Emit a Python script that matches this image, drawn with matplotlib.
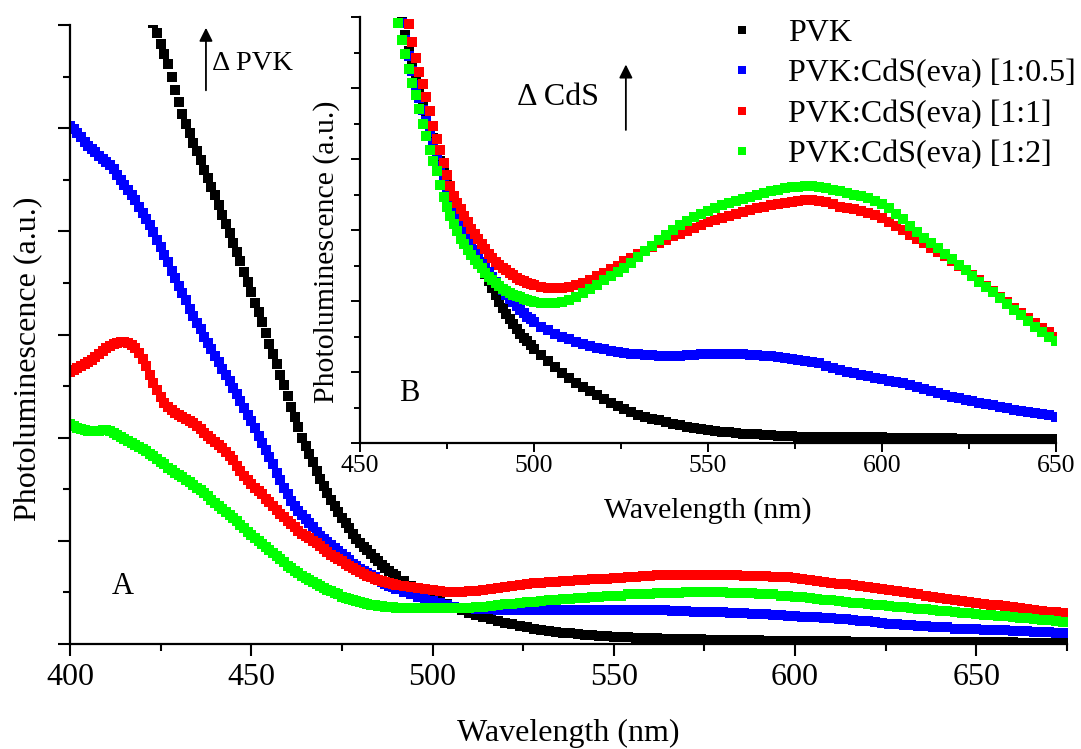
import numpy as np
import matplotlib
matplotlib.use("Agg")
import matplotlib.pyplot as plt
from matplotlib.ticker import MultipleLocator, NullFormatter

plt.rcParams['font.family'] = ['Liberation Serif', 'DejaVu Serif']

# ---------------- data: main panel (A) ----------------
wl_main = np.concatenate([np.arange(400, 491, 1), np.arange(492, 675, 2)])
wl_main_pvk = wl_main[wl_main >= 422]

pvk_main = [6.15, 6.02, 5.92, 5.82, 5.72, 5.62, 5.50, 5.37,
            5.25, 5.14, 5.04, 4.95, 4.86, 4.78, 4.69, 4.59, 4.52, 4.43,
            4.35, 4.26, 4.16, 4.07, 3.98, 3.89, 3.80, 3.71, 3.61, 3.51,
            3.41, 3.31, 3.22, 3.12, 3.01, 2.91, 2.81, 2.71, 2.61, 2.51,
            2.40, 2.30, 2.20, 2.10, 2.00, 1.92, 1.84, 1.76, 1.68, 1.60,
            1.53, 1.46, 1.40, 1.34, 1.28, 1.22, 1.17, 1.12, 1.07, 1.02,
            0.98, 0.94, 0.91, 0.87, 0.83, 0.80, 0.77, 0.74, 0.71, 0.68,
            0.66,
            0.61, 0.56, 0.52, 0.49, 0.46, 0.42, 0.39, 0.36, 0.33, 0.30,
            0.28, 0.26, 0.24, 0.22, 0.20, 0.19, 0.17, 0.16, 0.15, 0.14,
            0.13, 0.12, 0.11, 0.11, 0.10, 0.09, 0.09, 0.08, 0.08, 0.07,
            0.07, 0.07, 0.06, 0.06, 0.06, 0.06, 0.05, 0.05, 0.05, 0.05,
            0.05, 0.05, 0.04, 0.04, 0.04, 0.04, 0.04, 0.04, 0.04, 0.04,
            0.03, 0.03, 0.03, 0.03, 0.03, 0.03, 0.03, 0.03, 0.03, 0.03,
            0.03, 0.03, 0.02, 0.02, 0.02, 0.02, 0.02, 0.02, 0.02, 0.02,
            0.02, 0.02, 0.02, 0.02, 0.02, 0.02, 0.02, 0.02, 0.02, 0.02,
            0.02, 0.02, 0.02, 0.02, 0.02, 0.01, 0.01, 0.01, 0.01, 0.01,
            0.01, 0.01]

cds05_main = [5.02, 4.99, 4.95, 4.91, 4.87, 4.83, 4.80, 4.77, 4.73, 4.70,
              4.67, 4.64, 4.60, 4.55, 4.50, 4.45, 4.40, 4.35, 4.30, 4.24,
              4.18, 4.12, 4.06, 3.99, 3.92, 3.85, 3.77, 3.70, 3.62, 3.55,
              3.47, 3.40, 3.33, 3.25, 3.18, 3.11, 3.05, 2.98, 2.92, 2.86,
              2.79, 2.73, 2.67, 2.61, 2.55, 2.48, 2.42, 2.36, 2.29, 2.22,
              2.16, 2.09, 2.02, 1.95, 1.88, 1.81, 1.74, 1.66, 1.59, 1.51,
              1.45, 1.39, 1.34, 1.29, 1.25, 1.21, 1.17, 1.13, 1.09, 1.05,
              1.02, 0.99, 0.96, 0.93, 0.90, 0.87, 0.84, 0.81, 0.78, 0.76,
              0.73, 0.71, 0.69, 0.67, 0.65, 0.62, 0.60, 0.58, 0.56, 0.55,
              0.53,
              0.50, 0.48, 0.46, 0.44, 0.42, 0.40, 0.38, 0.36, 0.35, 0.35,
              0.34, 0.34, 0.34, 0.33, 0.33, 0.33, 0.33, 0.33, 0.33, 0.33,
              0.33, 0.33, 0.33, 0.33, 0.33, 0.33, 0.33, 0.33, 0.33, 0.33,
              0.33, 0.33, 0.33, 0.33, 0.33, 0.33, 0.33, 0.32, 0.32, 0.32,
              0.31, 0.31, 0.31, 0.31, 0.31, 0.30, 0.30, 0.30, 0.29, 0.29,
              0.29, 0.28, 0.28, 0.27, 0.27, 0.26, 0.26, 0.26, 0.25, 0.25,
              0.24, 0.24, 0.23, 0.22, 0.22, 0.21, 0.20, 0.19, 0.19, 0.18,
              0.18, 0.17, 0.17, 0.16, 0.16, 0.16, 0.15, 0.15, 0.15, 0.15,
              0.14, 0.14, 0.14, 0.14, 0.13, 0.13, 0.13, 0.12, 0.12, 0.12,
              0.11, 0.11]

cds1_main = [2.64, 2.66, 2.68, 2.69, 2.71, 2.73, 2.75, 2.78, 2.81, 2.84,
             2.87, 2.89, 2.91, 2.92, 2.93, 2.93, 2.92, 2.90, 2.87, 2.82,
             2.76, 2.69, 2.61, 2.53, 2.46, 2.39, 2.34, 2.30, 2.27, 2.24,
             2.22, 2.20, 2.18, 2.16, 2.14, 2.11, 2.08, 2.05, 2.02, 1.99,
             1.96, 1.93, 1.90, 1.86, 1.82, 1.78, 1.73, 1.68, 1.63, 1.59,
             1.55, 1.51, 1.48, 1.45, 1.41, 1.38, 1.34, 1.30, 1.26, 1.23,
             1.19, 1.16, 1.13, 1.10, 1.07, 1.05, 1.03, 1.00, 0.98, 0.95,
             0.92, 0.89, 0.86, 0.84, 0.82, 0.80, 0.78, 0.76, 0.74, 0.72,
             0.70, 0.68, 0.66, 0.65, 0.63, 0.62, 0.61, 0.60, 0.59, 0.58,
             0.57,
             0.56, 0.55, 0.54, 0.53, 0.52, 0.51, 0.50, 0.50, 0.50, 0.51,
             0.51, 0.52, 0.53, 0.54, 0.55, 0.56, 0.57, 0.58, 0.59, 0.59,
             0.60, 0.60, 0.61, 0.61, 0.62, 0.62, 0.63, 0.63, 0.63, 0.64,
             0.64, 0.65, 0.65, 0.66, 0.66, 0.67, 0.67, 0.67, 0.67, 0.67,
             0.67, 0.67, 0.67, 0.67, 0.67, 0.67, 0.67, 0.66, 0.66, 0.66,
             0.66, 0.65, 0.65, 0.65, 0.64, 0.63, 0.62, 0.61, 0.60, 0.59,
             0.58, 0.58, 0.57, 0.56, 0.55, 0.54, 0.53, 0.52, 0.51, 0.50,
             0.49, 0.48, 0.47, 0.46, 0.45, 0.44, 0.43, 0.42, 0.41, 0.40,
             0.39, 0.38, 0.38, 0.37, 0.36, 0.35, 0.34, 0.33, 0.32, 0.31,
             0.31, 0.30]

cds2_main = [2.13, 2.11, 2.09, 2.08, 2.07, 2.06, 2.06, 2.06, 2.06, 2.07,
             2.07, 2.06, 2.05, 2.03, 2.01, 1.99, 1.97, 1.95, 1.93, 1.91,
             1.89, 1.87, 1.84, 1.82, 1.79, 1.76, 1.74, 1.71, 1.69, 1.66,
             1.64, 1.62, 1.59, 1.57, 1.54, 1.51, 1.49, 1.46, 1.43, 1.40,
             1.37, 1.34, 1.31, 1.28, 1.25, 1.22, 1.19, 1.15, 1.12, 1.09,
             1.06, 1.03, 1.00, 0.97, 0.94, 0.91, 0.88, 0.85, 0.82, 0.79,
             0.76, 0.74, 0.71, 0.69, 0.66, 0.64, 0.62, 0.60, 0.58, 0.56,
             0.54, 0.52, 0.51, 0.49, 0.48, 0.46, 0.45, 0.44, 0.43, 0.42,
             0.41, 0.40, 0.39, 0.38, 0.38, 0.37, 0.37, 0.36, 0.36, 0.36,
             0.35,
             0.35, 0.35, 0.35, 0.35, 0.35, 0.35, 0.35, 0.35, 0.35, 0.35,
             0.36, 0.36, 0.37, 0.38, 0.39, 0.39, 0.40, 0.41, 0.41, 0.42,
             0.43, 0.43, 0.44, 0.44, 0.45, 0.45, 0.46, 0.46, 0.47, 0.47,
             0.47, 0.48, 0.48, 0.48, 0.48, 0.49, 0.49, 0.49, 0.49, 0.50,
             0.50, 0.50, 0.50, 0.50, 0.50, 0.49, 0.49, 0.49, 0.49, 0.48,
             0.48, 0.48, 0.47, 0.47, 0.46, 0.46, 0.45, 0.44, 0.43, 0.43,
             0.42, 0.41, 0.40, 0.40, 0.39, 0.38, 0.38, 0.37, 0.36, 0.36,
             0.35, 0.34, 0.34, 0.33, 0.32, 0.32, 0.31, 0.30, 0.30, 0.29,
             0.28, 0.28, 0.27, 0.27, 0.26, 0.25, 0.25, 0.24, 0.23, 0.23,
             0.22, 0.21]

# ---------------- data: inset (B) ----------------
wl_inset = np.concatenate([np.arange(460, 501, 1), np.arange(502, 651, 2)])

pvk_inset = [6.42, 6.20, 5.98, 5.75, 5.52, 5.31, 5.11, 4.93, 4.76, 4.60,
             4.45, 4.29, 4.13, 3.97, 3.82, 3.67, 3.53, 3.39, 3.26, 3.14,
             3.02, 2.91, 2.80, 2.69, 2.58, 2.48, 2.38, 2.28, 2.18, 2.08,
             1.99, 1.90, 1.82, 1.74, 1.67, 1.60, 1.54, 1.48, 1.43, 1.38, 1.33,
             1.24, 1.15, 1.07, 0.99, 0.92, 0.85, 0.79, 0.73, 0.67, 0.62,
             0.57, 0.52, 0.48, 0.44, 0.40, 0.37, 0.34, 0.32, 0.29, 0.27,
             0.25, 0.23, 0.21, 0.20, 0.18, 0.17, 0.16, 0.15, 0.14, 0.13,
             0.12, 0.12, 0.11, 0.11, 0.10, 0.10, 0.10, 0.09, 0.09, 0.09,
             0.08, 0.08, 0.08, 0.08, 0.08, 0.08, 0.08, 0.08, 0.08, 0.08,
             0.07, 0.07, 0.07, 0.07, 0.07, 0.07, 0.07, 0.07, 0.07, 0.07,
             0.06, 0.06, 0.06, 0.06, 0.06, 0.06, 0.06, 0.06, 0.06, 0.06,
             0.06, 0.06, 0.06, 0.06, 0.06]

cds05_inset = [6.35, 6.13, 5.91, 5.68, 5.45, 5.24, 5.04, 4.86, 4.69, 4.53,
               4.38, 4.22, 4.06, 3.90, 3.75, 3.60, 3.46, 3.33, 3.21, 3.10,
               3.00, 2.90, 2.81, 2.72, 2.63, 2.55, 2.48, 2.41, 2.34, 2.27,
               2.21, 2.15, 2.09, 2.03, 1.98, 1.93, 1.88, 1.83, 1.78, 1.74, 1.70,
               1.64, 1.59, 1.54, 1.50, 1.46, 1.42, 1.39, 1.36, 1.34, 1.32,
               1.30, 1.28, 1.27, 1.26, 1.25, 1.24, 1.24, 1.23, 1.23, 1.23,
               1.23, 1.24, 1.24, 1.25, 1.25, 1.25, 1.25, 1.25, 1.25, 1.25,
               1.24, 1.24, 1.23, 1.22, 1.21, 1.20, 1.19, 1.17, 1.16, 1.14,
               1.12, 1.09, 1.06, 1.03, 1.00, 0.98, 0.96, 0.94, 0.92, 0.90,
               0.88, 0.86, 0.84, 0.81, 0.79, 0.76, 0.73, 0.70, 0.67, 0.65,
               0.63, 0.61, 0.59, 0.57, 0.55, 0.53, 0.51, 0.49, 0.47, 0.45,
               0.44, 0.42, 0.41, 0.39, 0.37]

cds1_inset = [6.70, 6.55, 6.35, 6.10, 5.90, 5.65, 5.42, 5.22, 5.05, 4.88,
              4.68, 4.47, 4.28, 4.12, 3.95, 3.78, 3.62, 3.48, 3.38, 3.29,
              3.20, 3.11, 3.02, 2.94, 2.87, 2.80, 2.73, 2.66, 2.60, 2.55,
              2.51, 2.47, 2.43, 2.40, 2.36, 2.33, 2.30, 2.28, 2.26, 2.24, 2.22,
              2.20, 2.19, 2.19, 2.19, 2.20, 2.22, 2.25, 2.30, 2.35, 2.40,
              2.45, 2.50, 2.56, 2.61, 2.66, 2.71, 2.76, 2.81, 2.86, 2.91,
              2.95, 2.99, 3.03, 3.07, 3.11, 3.14, 3.17, 3.20, 3.23, 3.26,
              3.28, 3.31, 3.33, 3.35, 3.37, 3.38, 3.40, 3.41, 3.42, 3.42,
              3.41, 3.39, 3.36, 3.33, 3.31, 3.29, 3.27, 3.24, 3.21, 3.17,
              3.11, 3.06, 3.00, 2.93, 2.87, 2.81, 2.75, 2.69, 2.63, 2.57,
              2.50, 2.43, 2.36, 2.29, 2.21, 2.14, 2.06, 1.98, 1.90, 1.83,
              1.76, 1.69, 1.62, 1.56, 1.50]

cds2_inset = [6.15, 5.92, 5.67, 5.48, 5.27, 5.07, 4.90, 4.70, 4.50, 4.33,
              4.12, 3.97, 3.83, 3.63, 3.47, 3.32, 3.20, 3.09, 2.98, 2.88,
              2.80, 2.72, 2.65, 2.58, 2.52, 2.46, 2.40, 2.34, 2.29, 2.25,
              2.21, 2.17, 2.14, 2.11, 2.09, 2.07, 2.05, 2.03, 2.01, 2.00, 1.99,
              1.97, 1.97, 1.97, 1.99, 2.02, 2.06, 2.11, 2.17, 2.23, 2.29,
              2.35, 2.41, 2.47, 2.54, 2.62, 2.70, 2.78, 2.86, 2.93, 3.00,
              3.07, 3.13, 3.18, 3.23, 3.27, 3.31, 3.35, 3.38, 3.41, 3.44,
              3.47, 3.50, 3.52, 3.55, 3.57, 3.59, 3.60, 3.61, 3.62, 3.62,
              3.61, 3.59, 3.57, 3.55, 3.52, 3.50, 3.48, 3.45, 3.41, 3.37,
              3.31, 3.23, 3.15, 3.06, 2.97, 2.89, 2.81, 2.74, 2.66, 2.59,
              2.51, 2.43, 2.35, 2.27, 2.20, 2.12, 2.04, 1.96, 1.88, 1.80,
              1.72, 1.64, 1.57, 1.50, 1.44]

labels = ["PVK", "PVK:CdS(eva) [1:0.5]", "PVK:CdS(eva) [1:1]", "PVK:CdS(eva) [1:2]"]
colors = ["#000000", "#0000FF", "#FF0000", "#00FF00"]

# ---------------- figure ----------------
W, H = 1081, 749
fig = plt.figure(figsize=(W / 100, H / 100), dpi=100)
fig.patch.set_facecolor('white')

def fr(l, t, r, b):
    return [l / W, 1 - b / H, (r - l) / W, (b - t) / H]

ax = fig.add_axes(fr(70, 25, 1067, 644))
axi = fig.add_axes(fr(360, 17, 1056, 443))
axi.patch.set_alpha(0)

ms = 7.0
main_sets = [(wl_main_pvk, pvk_main), (wl_main, cds05_main), (wl_main, cds1_main), (wl_main, cds2_main)]
for (x, y), c in zip(main_sets, colors):
    ax.plot(x, y, 's', color=c, ms=ms, mew=0, ls='none')

inset_sets = [pvk_inset, cds05_inset, cds1_inset, cds2_inset]
for y, c, lab in zip(inset_sets, colors, labels):
    axi.plot(wl_inset, y, 's', color=c, ms=ms, mew=0, ls='none', label=lab)

for a in (ax, axi):
    a.spines['top'].set_visible(False)
    a.spines['right'].set_visible(False)
    for s in ('left', 'bottom'):
        a.spines[s].set_linewidth(1.6)
    a.set_ylim(0, 6)
    a.yaxis.set_major_locator(MultipleLocator(1))
    a.yaxis.set_minor_locator(MultipleLocator(0.5))
    a.yaxis.set_major_formatter(NullFormatter())
    a.xaxis.set_major_locator(MultipleLocator(50))
    a.xaxis.set_minor_locator(MultipleLocator(25))

ax.set_xlim(400, 675)
axi.set_xlim(450, 650)

ax.tick_params(which='major', direction='out', length=8.6, width=1.5, labelsize=23, pad=5)
ax.tick_params(which='minor', direction='out', length=5, width=1.5)
axi.tick_params(which='major', direction='out', length=6.5, width=1.4, labelsize=18.5, pad=2)
axi.tick_params(which='minor', direction='out', length=4.3, width=1.4)

ax.set_xlabel("Wavelength (nm)", fontsize=23)
ax.xaxis.set_label_coords(0.5, -0.121)
ax.set_ylabel("Photoluminescence (a.u.)", fontsize=23)
ax.yaxis.set_label_coords(-0.028, 0.46)

axi.set_xlabel("Wavelength (nm)", fontsize=21.5)
axi.xaxis.set_label_coords(0.5, -0.128)
axi.set_ylabel("Photoluminescence (a.u.)", fontsize=21.5)
axi.yaxis.set_label_coords(-0.029, 0.45)

# annotations
ax.annotate("", xy=(437.5, 6.0), xytext=(437.5, 5.34),
            arrowprops=dict(arrowstyle='-|>', color='k', lw=1.3, mutation_scale=20),
            annotation_clip=False)
ax.text(439.3, 5.63, "Δ PVK", fontsize=20.5, ha='left', va='center')
ax.text(414.6, 0.56, "A", fontsize=22, ha='center', va='center')

axi.annotate("", xy=(526.4, 5.37), xytext=(526.4, 4.37),
             arrowprops=dict(arrowstyle='-|>', color='k', lw=1.3, mutation_scale=20),
             annotation_clip=False)
axi.text(495.1, 4.86, "Δ CdS", fontsize=23, ha='left', va='center')
axi.text(464.1, 0.70, "B", fontsize=22, ha='center', va='center')

leg = axi.legend(loc='upper left', bbox_to_anchor=(726.4 / W, 1 - 19 / H),
                 bbox_transform=fig.transFigure, frameon=False, fontsize=23,
                 handlelength=1.0, handletextpad=0.92, labelspacing=0.34,
                 borderpad=0, borderaxespad=0, numpoints=1, markerscale=0.8)

fig.savefig("out.png", dpi=100, facecolor='white')
